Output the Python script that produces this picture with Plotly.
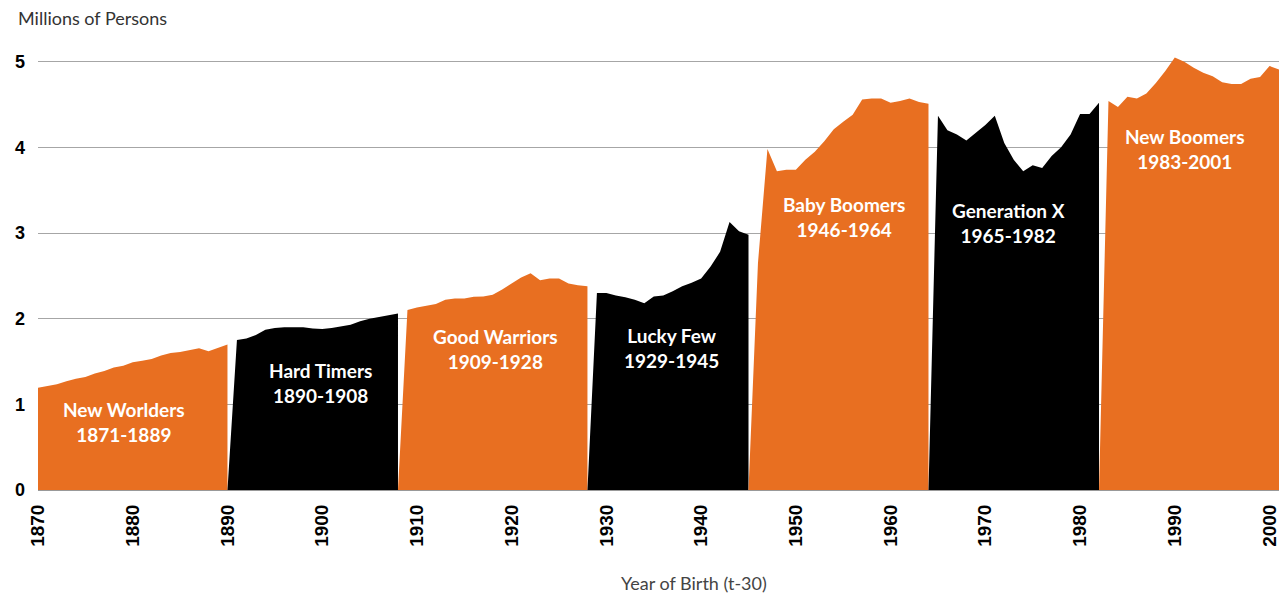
import plotly.graph_objects as go

ORANGE = "#E86F21"
BLACK = "#000000"

# Generation names and birth-year spans (labels)
gen_names = ["New Worlders", "Hard Timers", "Good Warriors", "Lucky Few",
             "Baby Boomers", "Generation X", "New Boomers"]
gen_spans = ["1871-1889", "1890-1908", "1909-1928", "1929-1945",
             "1946-1964", "1965-1982", "1983-2001"]
gen_colors = [ORANGE, BLACK, ORANGE, BLACK, ORANGE, BLACK, ORANGE]

# Data (millions of persons)
nw_years = list(range(1870, 1891))
nw_vals = [1.195, 1.215, 1.235, 1.27, 1.30, 1.32, 1.36, 1.39, 1.43, 1.45, 1.49,
           1.51, 1.53, 1.57, 1.60, 1.61, 1.63, 1.655, 1.62, 1.66, 1.70]

ht_years = list(range(1891, 1909))
ht_vals = [1.75, 1.77, 1.81, 1.87, 1.89, 1.90, 1.90, 1.90, 1.885, 1.88, 1.89,
           1.91, 1.93, 1.97, 2.00, 2.02, 2.04, 2.06]

gw_years = list(range(1909, 1929))
gw_vals = [2.10, 2.13, 2.15, 2.17, 2.22, 2.235, 2.235, 2.255, 2.26, 2.28, 2.34,
           2.41, 2.48, 2.53, 2.45, 2.47, 2.47, 2.41, 2.39, 2.38]

lf_years = list(range(1929, 1946))
lf_vals = [2.30, 2.30, 2.27, 2.25, 2.22, 2.18, 2.26, 2.27, 2.32, 2.38, 2.42,
           2.47, 2.61, 2.78, 3.13, 3.02, 2.98]

bb_years = list(range(1946, 1965))
bb_vals = [2.65, 3.98, 3.72, 3.74, 3.74, 3.855, 3.95, 4.07, 4.21, 4.30, 4.38,
           4.56, 4.57, 4.57, 4.52, 4.54, 4.57, 4.53, 4.51]

gx_years = list(range(1965, 1983))
gx_vals = [4.37, 4.20, 4.15, 4.08, 4.17, 4.26, 4.37, 4.05, 3.855, 3.72, 3.79,
           3.76, 3.90, 4.00, 4.15, 4.39, 4.39, 4.52]

nb_years = list(range(1983, 2002))
nb_vals = [4.54, 4.47, 4.59, 4.57, 4.63, 4.75, 4.89, 5.05, 5.00, 4.93, 4.87,
           4.83, 4.76, 4.74, 4.74, 4.80, 4.82, 4.95, 4.91]

series_years = [nw_years, ht_years, gw_years, lf_years, bb_years, gx_years, nb_years]
series_vals = [nw_vals, ht_vals, gw_vals, lf_vals, bb_vals, gx_vals, nb_vals]

# Label anchor positions (year, value)
label_x = [1879.1, 1899.8, 1918.3, 1936.9, 1955.1, 1972.4, 1991.1]
label_y = [0.79, 1.25, 1.65, 1.66, 3.19, 3.12, 3.98]

x_ticks = list(range(1870, 2001, 10))
y_ticks = [0, 1, 2, 3, 4, 5]

W, H = 1281, 595
ML, MR, MT, MB = 38, 2, 36, 105
PW, PH = W - ML - MR, H - MT - MB

fig = go.Figure()
for i, (yrs, vals) in enumerate(zip(series_years, series_vals)):
    xs = list(yrs)
    ys = list(vals)
    if i > 0:
        xs = [yrs[0] - 1] + xs
        ys = [0] + ys
    if i < len(series_years) - 1:
        xs = xs + [yrs[-1]]
        ys = ys + [0]
    fig.add_trace(go.Scatter(
        x=xs, y=ys, mode="lines", fill="tozeroy",
        line=dict(width=0, color=gen_colors[i]),
        fillcolor=gen_colors[i], hoverinfo="skip", showlegend=False,
    ))

for name, span, lx, ly in zip(gen_names, gen_spans, label_x, label_y):
    fig.add_annotation(
        x=lx, y=ly, xref="x", yref="y",
        text=f"{name}<br>{span}", showarrow=False,
        font=dict(family="Lato", size=19, color="white", weight="bold"),
        align="center",
    )

fig.add_annotation(
    xref="paper", yref="paper", x=(16 - ML) / PW, y=(H - MB - 18) / PH,
    text="Millions of Persons", showarrow=False,
    xanchor="left", yanchor="middle",
    font=dict(family="Lato", size=18, color="#333333"),
)
fig.add_annotation(
    xref="paper", yref="paper", x=(694 - ML) / PW, y=(H - MB - 583) / PH,
    text="Year of Birth (t-30)", showarrow=False,
    xanchor="center", yanchor="middle",
    font=dict(family="Lato", size=18, color="#444444"),
)

fig.update_layout(
    width=W, height=H,
    margin=dict(l=ML, r=MR, t=MT, b=MB, autoexpand=False),
    paper_bgcolor="white", plot_bgcolor="white",
    xaxis=dict(
        range=[1870, 2001], tickvals=x_ticks, tickangle=-90,
        tickfont=dict(family="Liberation Sans", size=19, color="black", weight="bold"),
        showgrid=False, zeroline=False, showline=True, linecolor="#999999", linewidth=1,
        ticklabelstandoff=6, automargin=False,
    ),
    yaxis=dict(
        range=[0, 5.3], tickvals=y_ticks,
        tickfont=dict(family="Liberation Sans", size=18, color="black", weight="bold"),
        showgrid=True, gridcolor="#a6a6a6", gridwidth=1, zeroline=False,
        ticklabelstandoff=12, automargin=False,
    ),
)

fig.write_html("out.html", config={"displayModeBar": False},
               post_script="document.body.style.margin='0';")
